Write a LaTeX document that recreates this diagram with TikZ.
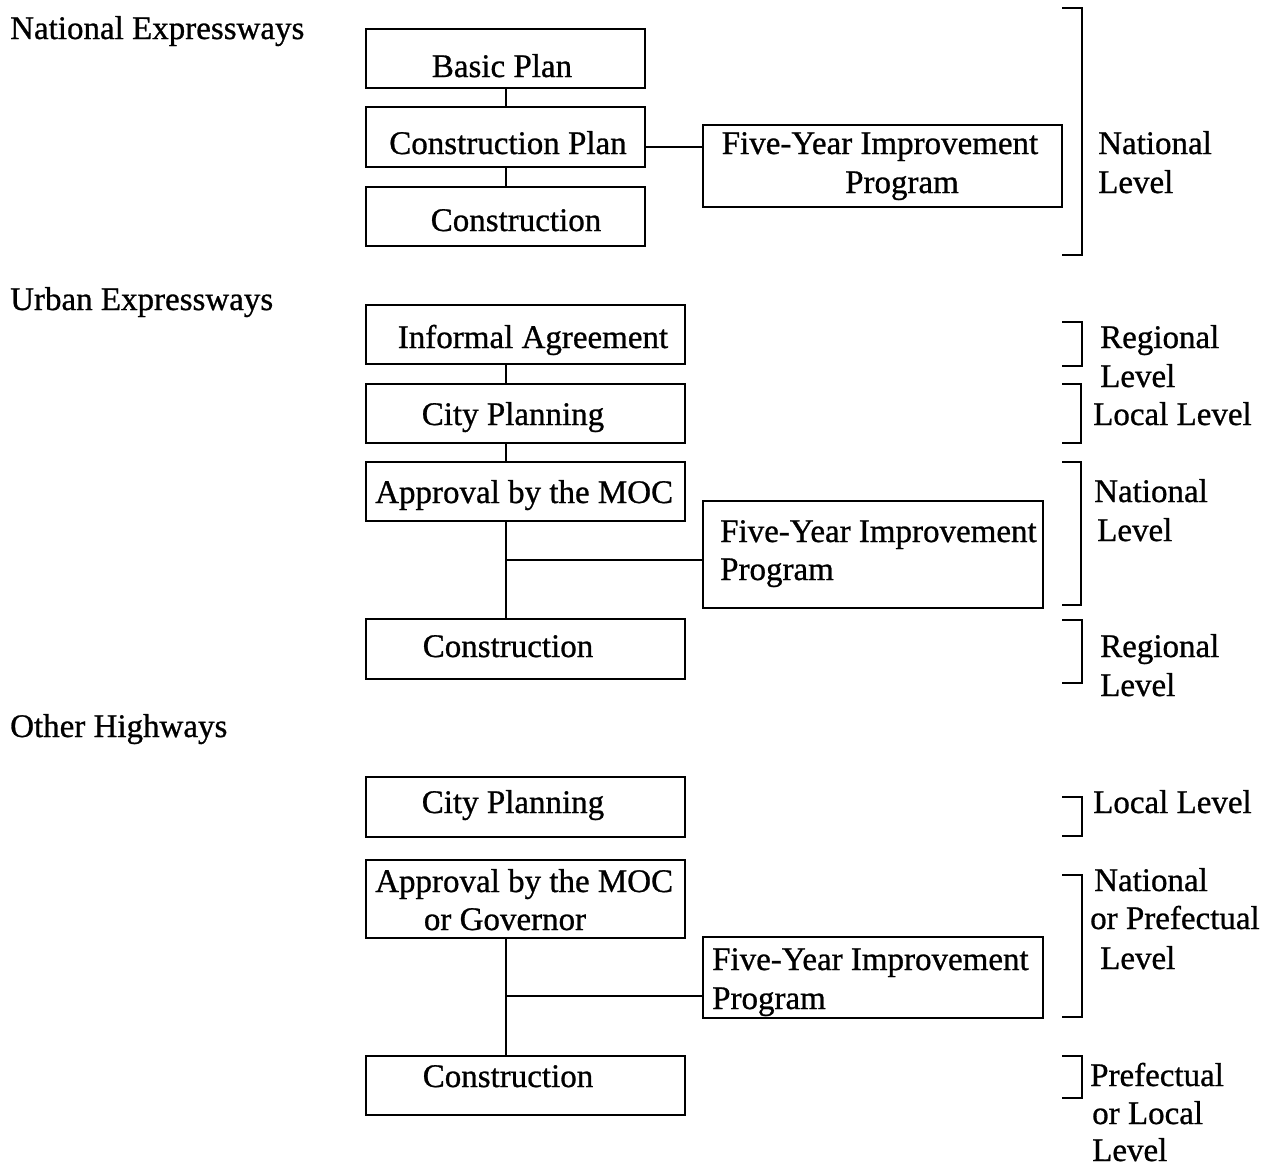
\documentclass[tikz,border=0pt]{standalone}
\usepackage{fontspec}
\setmainfont{Liberation Serif}[FakeBold=0.8]
\begin{document}
\begin{tikzpicture}[x=1pt,y=-1pt,
  box/.style={draw, line width=2.6pt, inner sep=0pt},
  link/.style={line width=2.6pt},
  brace/.style={line width=2.6pt},
  txt/.style={inner sep=0pt, anchor=base},
  txtw/.style={inner sep=0pt, anchor=base west}]
\useasboundingbox (0,0) rectangle (1263,1167);
\fontsize{33}{39}\selectfont

% ---------- National Expressways ----------
\node[txtw] (t1) at (10,39) {National Expressways};
\node[box, minimum width=279pt, minimum height=59pt] (a1) at (505.5,58.5) {};
\node[box, minimum width=279pt, minimum height=60pt] (a2) at (505.5,137) {};
\node[box, minimum width=279pt, minimum height=59pt] (a3) at (505.5,216.5) {};
\node[box, minimum width=359pt, minimum height=82pt] (a4) at (882.5,166) {};
\node[txt] at (502,77) {Basic Plan};
\node[txt] at (508,154) {Construction Plan};
\node[txt] at (516,231) {Construction};
\node[txt] at (880,154) {Five-Year Improvement};
\node[txt] at (902,193) {Program};
\coordinate (ja) at (506,147);
\draw[link] (a1.south -| ja) -- (a2.north -| ja);
\draw[link] (a2.south -| ja) -- (a3.north -| ja);
\draw[link] (a2.east |- ja) -- (a4.west |- ja);
\draw[brace] (1062,8) -- (1082,8) -- (1082,255) -- (1062,255);
\node[txtw] at (1098,154) {National};
\node[txtw] at (1098,193) {Level};

% ---------- Urban Expressways ----------
\node[txtw] (t2) at (10,310) {Urban Expressways};
\node[box, minimum width=319pt, minimum height=59pt] (b1) at (525.5,334.5) {};
\node[box, minimum width=319pt, minimum height=59pt] (b2) at (525.5,413.5) {};
\node[box, minimum width=319pt, minimum height=59pt] (b3) at (525.5,491.5) {};
\node[box, minimum width=340pt, minimum height=107pt] (b4) at (873,554.5) {};
\node[box, minimum width=319pt, minimum height=60pt] (b5) at (525.5,649) {};
\node[txt] at (533,348) {Informal Agreement};
\node[txt] at (513,425) {City Planning};
\node[txtw] at (375,503) {Approval by the MOC};
\node[txtw] at (720,542) {Five-Year Improvement};
\node[txtw] at (720,580) {Program};
\node[txt] at (508,657) {Construction};
\coordinate (jb) at (506,560);
\draw[link] (b1.south -| jb) -- (b2.north -| jb);
\draw[link] (b2.south -| jb) -- (b3.north -| jb);
\draw[link] (b3.south -| jb) -- (b5.north -| jb);
\draw[link] (jb) -- (b4.west |- jb);
\draw[brace] (1062,322) -- (1082,322) -- (1082,366) -- (1062,366);
\draw[brace] (1062,384) -- (1081,384) -- (1081,443) -- (1062,443);
\draw[brace] (1062,462) -- (1081,462) -- (1081,605) -- (1062,605);
\draw[brace] (1062,620) -- (1082,620) -- (1082,683) -- (1062,683);
\node[txtw] at (1100,348) {Regional};
\node[txtw] at (1100,387) {Level};
\node[txtw] at (1093,425) {Local Level};
\node[txtw] at (1094,502) {National};
\node[txtw] at (1097,541) {Level};
\node[txtw] at (1100,657) {Regional};
\node[txtw] at (1100,696) {Level};

% ---------- Other Highways ----------
\node[txtw] (t3) at (10,737) {Other Highways};
\node[box, minimum width=319pt, minimum height=60pt] (c1) at (525.5,807) {};
\node[box, minimum width=319pt, minimum height=78pt] (c2) at (525.5,899) {};
\node[box, minimum width=340pt, minimum height=81pt] (c3) at (873,977.5) {};
\node[box, minimum width=319pt, minimum height=59pt] (c4) at (525.5,1085.5) {};
\node[txt] at (513,813) {City Planning};
\node[txtw] at (375,892) {Approval by the MOC};
\node[txt] at (505,930) {or Governor};
\node[txtw] at (712,970) {Five-Year Improvement};
\node[txtw] at (712,1009) {Program};
\node[txt] at (508,1087) {Construction};
\coordinate (jc) at (506,996);
\draw[link] (c2.south -| jc) -- (c4.north -| jc);
\draw[link] (jc) -- (c3.west |- jc);
\draw[brace] (1062,797) -- (1082,797) -- (1082,836) -- (1062,836);
\draw[brace] (1062,875) -- (1082,875) -- (1082,1017) -- (1062,1017);
\draw[brace] (1062,1056) -- (1082,1056) -- (1082,1098) -- (1062,1098);
\node[txtw] at (1093,813) {Local Level};
\node[txtw] at (1094,891) {National};
\node[txtw] at (1090,929) {or Prefectual};
\node[txtw] at (1100,969) {Level};
\node[txtw] at (1090,1086) {Prefectual};
\node[txtw] at (1092,1124) {or Local};
\node[txtw] at (1092,1161) {Level};
\end{tikzpicture}
\end{document}
